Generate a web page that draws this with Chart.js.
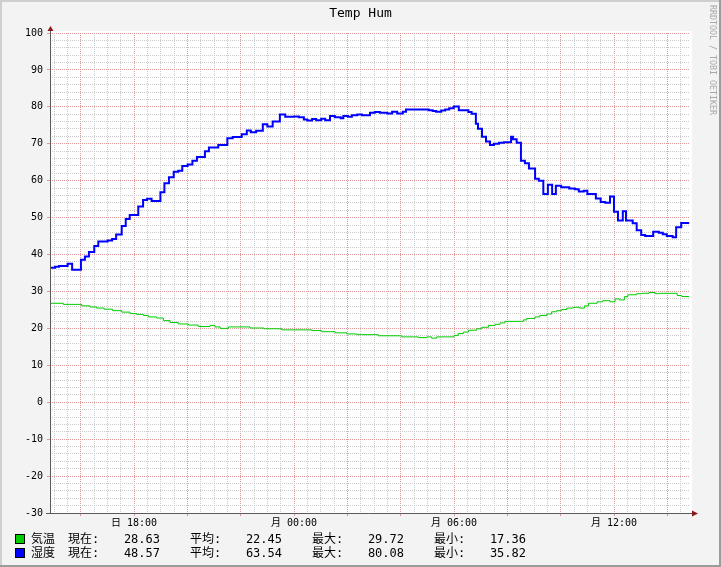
<!DOCTYPE html>
<html>
<head>
<meta charset="utf-8">
<title>Temp Hum</title>
<script src="https://cdn.jsdelivr.net/npm/chart.js@4.4.0/dist/chart.umd.min.js"></script>
<style>
  html, body { margin: 0; padding: 0; background: #f3f3f3; }
  canvas { display: block; }
</style>
</head>
<body>
<canvas id="chart" width="721" height="567"></canvas>
<script>
const chartTitle = 'Temp Hum';
const watermarkText = 'RRDTOOL / TOBI OETIKER';

// time axis: hours since Sunday 00:00
const xMin = 14.85;
const xMax = 38.85;

const tempHours = [14.85, 15.35, 16.04, 16.35, 16.60, 16.88, 17.20, 17.54, 17.85, 18.10,
  18.35, 18.54, 18.85, 19.10, 19.35, 19.66, 20.04, 20.41, 20.85, 21.04,
  21.23, 21.54, 22.35, 22.87, 23.54, 24.66, 25.04, 25.54, 25.98, 26.35,
  27.16, 28.04, 28.66, 28.98, 29.16, 29.35, 30.00, 30.16, 30.35, 30.54,
  30.85, 31.04, 31.29, 31.54, 31.73, 31.91, 32.60, 32.73, 33.04, 33.22,
  33.48, 33.66, 33.85, 34.04, 34.23, 34.47, 34.70, 34.89, 35.04, 35.37,
  35.58, 35.85, 36.04, 36.20, 36.39, 36.52, 36.85, 37.04, 37.32, 37.54,
  37.70, 38.37, 38.54, 38.70, 38.82];
const tempValues = [27.2, 26.8, 26.5, 26.1, 25.8, 25.5, 25.2, 24.8, 24.4, 24.0,
  23.8, 23.5, 23.1, 22.8, 22.1, 21.6, 21.2, 20.9, 20.5, 20.8,
  20.4, 20.0, 20.4, 20.1, 19.9, 19.6, 19.4, 19.1, 18.8, 18.5,
  18.3, 18.0, 17.7, 17.5, 17.7, 17.36, 17.7, 18.1, 18.6, 19.0,
  19.5, 19.9, 20.3, 20.8, 21.1, 21.5, 21.9, 22.3, 22.7, 23.1,
  23.5, 23.9, 24.5, 24.8, 25.1, 25.5, 25.7, 25.5, 26.1, 26.8,
  27.2, 27.5, 27.2, 28.0, 27.7, 28.6, 29.1, 29.4, 29.5, 29.72,
  29.4, 29.5, 28.9, 28.63, 28.63];

const humHours = [14.85, 15.04, 15.19, 15.51, 15.68, 16.01, 16.16, 16.31, 16.51, 16.66,
  17.01, 17.18, 17.33, 17.54, 17.69, 17.84, 18.16, 18.34, 18.49, 18.66,
  18.99, 19.14, 19.31, 19.49, 19.66, 19.81, 20.01, 20.19, 20.36, 20.66,
  20.81, 21.16, 21.50, 21.70, 22.04, 22.23, 22.38, 22.58, 22.83, 23.00,
  23.20, 23.47, 23.67, 24.00, 24.18, 24.37, 24.50, 24.68, 24.83, 25.02,
  25.17, 25.35, 25.53, 25.75, 25.85, 26.02, 26.17, 26.37, 26.55, 26.85,
  27.03, 27.22, 27.50, 27.68, 27.87, 28.08, 28.20, 29.05, 29.20, 29.33,
  29.52, 29.67, 29.82, 29.99, 30.18, 30.54, 30.66, 30.82, 30.90, 31.05,
  31.20, 31.35, 31.50, 31.69, 31.87, 32.14, 32.21, 32.35, 32.51, 32.66,
  32.81, 33.04, 33.18, 33.35, 33.52, 33.68, 33.82, 34.02, 34.32, 34.53,
  34.68, 34.87, 35.00, 35.32, 35.50, 35.67, 35.85, 36.00, 36.15, 36.33,
  36.45, 36.70, 36.85, 37.02, 37.17, 37.47, 37.68, 37.83, 37.98, 38.20,
  38.33, 38.52, 38.67, 38.82];
const humValues = [35.82, 36.4, 36.7, 36.9, 37.5, 35.9, 38.6, 39.5, 40.7, 42.3,
  43.5, 43.8, 44.2, 45.4, 47.7, 49.6, 50.7, 53.0, 54.8, 55.1,
  54.5, 56.9, 59.3, 60.9, 62.4, 62.7, 64.0, 64.4, 65.4, 66.4,
  68.0, 69.0, 69.7, 71.5, 71.8, 72.6, 73.6, 73.1, 73.5, 75.3,
  74.7, 76.0, 77.9, 77.3, 77.4, 77.2, 76.6, 76.3, 76.7, 76.4,
  76.8, 76.4, 77.5, 77.2, 76.9, 77.5, 77.3, 77.7, 77.9, 77.7,
  78.4, 78.6, 78.4, 78.2, 78.7, 78.2, 78.7, 79.3, 79.1, 78.9,
  78.7, 79.0, 79.3, 79.6, 80.08, 79.1, 78.6, 78.1, 75.4, 74.1,
  71.9, 70.6, 69.7, 70.0, 70.3, 70.4, 71.9, 71.2, 70.3, 65.4,
  64.7, 63.3, 60.5, 60.0, 56.4, 58.9, 56.4, 58.6, 58.2, 57.9,
  57.7, 57.1, 57.3, 56.4, 55.2, 54.2, 54.0, 55.7, 51.6, 49.2,
  51.7, 49.2, 48.5, 46.6, 45.3, 45.0, 46.2, 45.9, 45.5, 45.0,
  44.7, 47.4, 48.57, 48.57];

const xLabelHours = [18, 24, 30, 36];
const xLabelTexts = ['日 18:00', '月 00:00', '月 06:00', '月 12:00'];

const legendNames = ['気温', '湿度'];
const statLabels = ['現在:', '平均:', '最大:', '最小:'];
const statCurrent = [28.63, 48.57];
const statAverage = [22.45, 63.54];
const statMaximum = [29.72, 80.08];
const statMinimum = [17.36, 35.82];

const colors = ['#00cc00', '#0000ff'];
const monoFamily = "'DejaVu Sans Mono', 'Noto Sans CJK JP', monospace";
const minorGrid = '#cbcbcb';
const majorGrid = '#de9a9a';

const isMajorX = (v) => Math.abs(v / 2 - Math.round(v / 2)) < 1e-6;
const isMajorY = (v) => Math.abs(v / 10 - Math.round(v / 10)) < 1e-6;

const toPoints = (xs, ys) => xs.map((x, i) => ({ x: x, y: ys[i] }));

const rrdPlugin = {
  id: 'rrdFrame',
  beforeDraw(chart) {
    const { ctx, chartArea: a, width, height } = chart;
    ctx.save();
    ctx.fillStyle = '#f3f3f3';
    ctx.fillRect(0, 0, width, height);
    ctx.fillStyle = '#cfcfcf';
    ctx.fillRect(0, 0, width, 2);
    ctx.fillRect(0, 0, 2, height);
    ctx.fillStyle = '#9c9c9c';
    ctx.fillRect(0, height - 2, width, 2);
    ctx.fillRect(width - 2, 0, 2, height);
    ctx.fillStyle = '#ffffff';
    ctx.fillRect(a.left, a.top - 2, a.right - a.left + 2, a.bottom - a.top + 2);
    ctx.restore();
  },
  afterDraw(chart) {
    const { ctx, chartArea: a, width } = chart;
    ctx.save();

    // axes + arrows
    ctx.strokeStyle = '#5a5a5a';
    ctx.lineWidth = 1;
    ctx.beginPath();
    ctx.moveTo(a.left + 0.5, a.bottom + 1);
    ctx.lineTo(a.left + 0.5, a.top - 3);
    ctx.moveTo(a.left - 4, a.bottom + 0.5);
    ctx.lineTo(a.right + 3, a.bottom + 0.5);
    ctx.stroke();
    ctx.fillStyle = '#8b1a1a';
    ctx.beginPath();
    ctx.moveTo(a.left - 2.5, a.top - 2);
    ctx.lineTo(a.left + 3.5, a.top - 2);
    ctx.lineTo(a.left + 0.5, a.top - 7);
    ctx.closePath();
    ctx.fill();
    ctx.beginPath();
    ctx.moveTo(a.right + 2, a.bottom - 2.5);
    ctx.lineTo(a.right + 2, a.bottom + 3.5);
    ctx.lineTo(a.right + 8, a.bottom + 0.5);
    ctx.closePath();
    ctx.fill();

    // title
    ctx.fillStyle = '#000';
    ctx.font = '13px ' + monoFamily;
    ctx.textAlign = 'center';
    ctx.textBaseline = 'middle';
    ctx.fillText(chartTitle, width / 2, 14);

    // vertical watermark
    ctx.save();
    ctx.translate(width - 9, 5);
    ctx.rotate(Math.PI / 2);
    ctx.fillStyle = '#a8a8a8';
    ctx.font = '8.3px ' + monoFamily;
    ctx.textAlign = 'left';
    ctx.textBaseline = 'middle';
    ctx.fillText(watermarkText, 0, 0);
    ctx.restore();

    // legend
    ctx.font = '12px ' + monoFamily;
    ctx.textBaseline = 'alphabetic';
    const stats = [statCurrent, statAverage, statMaximum, statMinimum];
    const labelX = [68, 190, 312, 434];
    const valueX = [160, 282, 404, 526];
    legendNames.forEach((name, i) => {
      const base = 543 + i * 14;
      ctx.fillStyle = colors[i];
      ctx.fillRect(15, base - 9, 10, 10);
      ctx.strokeStyle = '#000';
      ctx.strokeRect(15.5, base - 8.5, 9, 9);
      ctx.fillStyle = '#000';
      ctx.textAlign = 'left';
      ctx.fillText(name, 31, base);
      stats.forEach((arr, j) => {
        ctx.textAlign = 'left';
        ctx.fillText(statLabels[j], labelX[j], base);
        ctx.textAlign = 'right';
        ctx.fillText(arr[i].toFixed(2), valueX[j], base);
      });
    });
    ctx.restore();
  }
};

new Chart(document.getElementById('chart'), {
  type: 'line',
  plugins: [rrdPlugin],
  data: {
    datasets: [
      {
        label: legendNames[0],
        data: toPoints(tempHours, tempValues),
        borderColor: colors[0],
        borderWidth: 1,
        stepped: 'after',
        pointRadius: 0,
        fill: false
      },
      {
        label: legendNames[1],
        data: toPoints(humHours, humValues),
        borderColor: colors[1],
        borderWidth: 2,
        stepped: 'after',
        pointRadius: 0,
        fill: false
      }
    ]
  },
  options: {
    responsive: false,
    animation: false,
    devicePixelRatio: 1,
    layout: { padding: { left: 0, top: 33, right: 31, bottom: 34 } },
    plugins: {
      legend: { display: false },
      tooltip: { enabled: false }
    },
    scales: {
      x: {
        type: 'linear',
        min: xMin,
        max: xMax,
        afterBuildTicks: (scale) => {
          const ticks = [];
          for (let h = Math.ceil(xMin * 2) / 2; h <= xMax; h += 0.5) ticks.push({ value: h });
          scale.ticks = ticks;
        },
        afterFit: (scale) => { scale.height = 20; },
        grid: {
          color: (c) => (c.tick && isMajorX(c.tick.value) ? majorGrid : minorGrid),
          tickColor: (c) => (c.tick && isMajorX(c.tick.value) ? majorGrid : 'rgba(0,0,0,0)'),
          tickLength: 3
        },
        border: { display: false, dash: [1, 1] },
        ticks: {
          autoSkip: false,
          maxRotation: 0,
          padding: 1,
          color: '#000',
          font: { family: monoFamily, size: 10 },
          callback: (v) => {
            const i = xLabelHours.indexOf(v);
            return i < 0 ? '' : xLabelTexts[i];
          }
        }
      },
      y: {
        min: -30,
        max: 100,
        afterBuildTicks: (scale) => {
          const ticks = [];
          for (let v = -30; v <= 100; v += 2) ticks.push({ value: v });
          scale.ticks = ticks;
        },
        afterFit: (scale) => { scale.width = 50; },
        grid: {
          color: (c) => (c.tick && isMajorY(c.tick.value) ? majorGrid : minorGrid),
          tickColor: (c) => (c.tick && isMajorY(c.tick.value) ? majorGrid : 'rgba(0,0,0,0)'),
          tickLength: 3
        },
        border: { display: false, dash: [1, 1] },
        ticks: {
          autoSkip: false,
          padding: 4,
          color: '#000',
          font: { family: monoFamily, size: 10 },
          callback: (v) => (isMajorY(v) ? String(v) : '')
        }
      }
    }
  }
});
</script>
</body>
</html>
